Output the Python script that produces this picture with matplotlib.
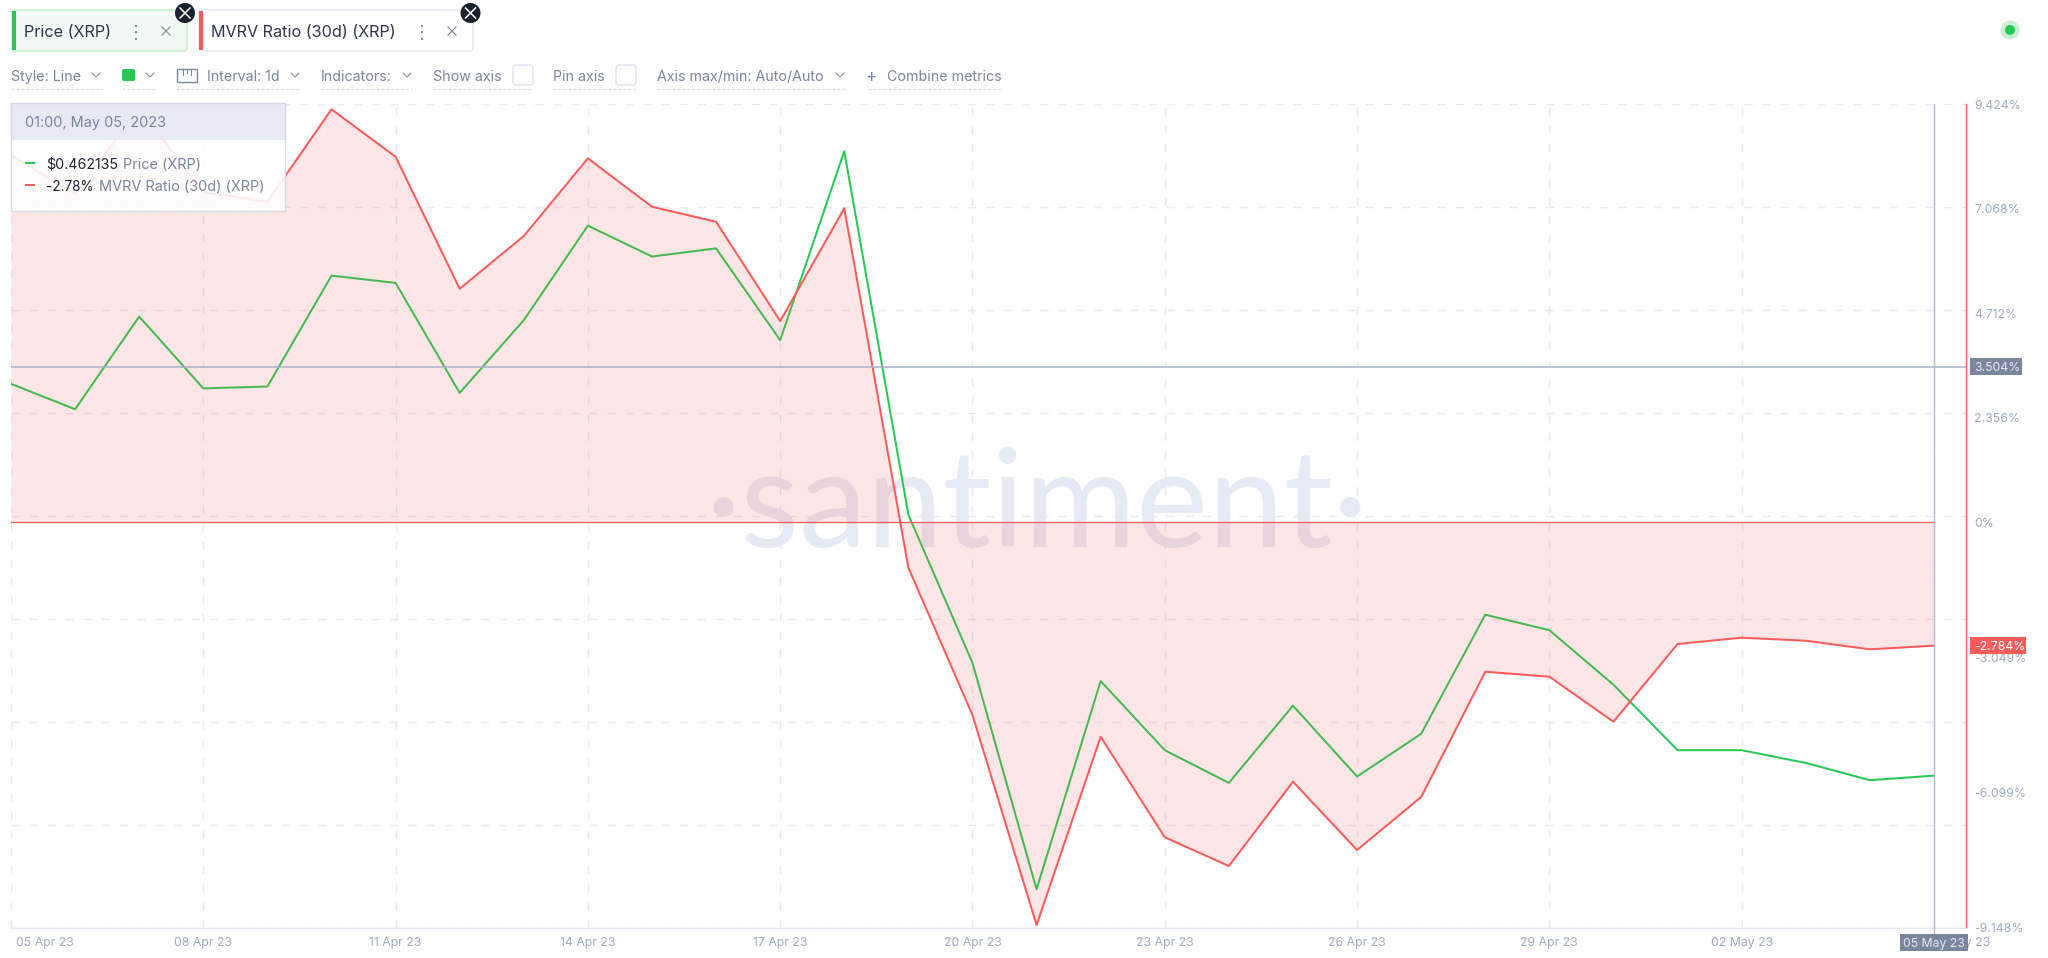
import matplotlib
matplotlib.use('Agg')
import matplotlib.pyplot as plt
import matplotlib.patches as patches
from matplotlib.transforms import ScaledTranslation
import pandas as pd

# daily closes, 05 Apr - 05 May 2023
dates = pd.date_range('2023-04-05', periods=31)
price = [0.5052, 0.5024, 0.5126, 0.5047, 0.5049, 0.5171, 0.5163, 0.5042, 0.5122, 0.5226, 0.5192,
         0.5201, 0.5100, 0.5308, 0.4908, 0.4745, 0.4496, 0.4725, 0.4649, 0.4613, 0.4698,
         0.4620, 0.4667, 0.4798, 0.4781, 0.4721, 0.4649, 0.4649, 0.4635, 0.4616, 0.4621]
mvrv = [8.274, 7.395, 9.326, 7.433, 7.221, 9.304, 8.235, 5.260, 6.448, 8.199, 7.108,
        6.770, 4.532, 7.072, -1.028, -4.348, -9.080, -4.837, -7.104, -7.751, -5.851,
        -7.390, -6.196, -3.372, -3.484, -4.499, -2.747, -2.605, -2.673, -2.867, -2.784]
mvrv_ticks = [9.424, 7.068, 4.712, 2.356, 0, -3.049, -6.099, -9.148]
mvrv_tick_labels = ['9.424%', '7.068%', '4.712%', '2.356%', '0%', '-3.049%', '-6.099%', '-9.148%']
hover_mvrv = 3.504

GREEN = '#26c953'
RED = '#ff5b5b'
GREY = '#7a859e'
AXIS_GREY = '#9faac4'
GRID = '#e7e9f3'
LINE_GREY = '#b2bbd3'
DARK = '#1f2333'
W, H = 2048, 958

plt.rcParams['font.family'] = ['Inter', 'DejaVu Sans']

fig = plt.figure(figsize=(W / 100, H / 100), dpi=100)
pos = [11 / W, (H - 928) / H, 1955 / W, 824 / H]

# price goes on the lower axes, the pink fill sits on top of its line
ax_price = fig.add_axes(pos)
ax = ax_price.twinx()
ax.patch.set_visible(False)
ax_price.set_facecolor('white')

dash = (0, (5.8, 7.2))
for i in range(9):
    ax_price.plot([0, 1], [i / 8, i / 8], transform=ax_price.transAxes, color=GRID, lw=1, ls=dash, zorder=1)

ax_price.text(0.5248, 0.4624, '·santiment·', transform=ax_price.transAxes, ha='center', va='baseline',
              family='Lato', fontsize=98, color='#e6eaf4', zorder=0.5)

ax_price.plot(dates, price, color=GREEN, lw=1.45, zorder=3)
ax_price.set_ylim(0.44534, 0.53598)
ax_price.set_yticks([])

ax.fill_between(dates, mvrv, 0, color=RED, alpha=0.15, lw=0, zorder=2)
ax.plot(dates, mvrv, color=RED, lw=1.45, zorder=3)
ax.axhline(0, xmax=30 / 30.5, color=RED, lw=0.9, zorder=3)
ax.axhline(hover_mvrv, color='#a9b2cb', lw=1.1, zorder=4)
ax.set_ylim(-9.148, 9.424)
ax.set_yticks(mvrv_ticks, mvrv_tick_labels)
ax.tick_params(axis='y', length=0, pad=5.8, labelsize=8.8, labelcolor=AXIS_GREY)

ax.set_xlim(dates[0], dates[0] + pd.Timedelta(days=30.5))
tick_dates = dates[::3]
ax_price.set_xticks(tick_dates, [d.strftime('%d %b %y') for d in tick_dates])
ax_price.tick_params(axis='x', length=0, pad=6.5, labelsize=8.8, labelcolor=AXIS_GREY)
ax_price.grid(axis='x', color=GRID, lw=1, ls=dash)
ax_price.set_axisbelow(True)

# first and last date labels get pushed sideways in the app
tick_texts = ax_price.get_xticklabels()
tick_texts[0].set_transform(tick_texts[0].get_transform() + ScaledTranslation(0.34, 0, fig.dpi_scale_trans))
tick_texts[-1].set_transform(tick_texts[-1].get_transform() + ScaledTranslation(0.25, 0, fig.dpi_scale_trans))

for spine in ax.spines.values():
    spine.set_visible(False)
for spine in ax_price.spines.values():
    spine.set_visible(False)
ax.spines['right'].set_visible(True)
ax.spines['right'].set_color(RED)
ax.spines['right'].set_linewidth(1)
ax.spines['bottom'].set_visible(True)
ax.spines['bottom'].set_color('#e5e8f2')
ax.spines['bottom'].set_linewidth(1)

# everything of the app around the chart, in pixels of the screenshot
ui = fig.add_axes([0, 0, 1, 1])
ui.set_xlim(0, W)
ui.set_ylim(H, 0)
ui.axis('off')


def label(x, y, s, size=14.2, color=GREY, ha='left', **kw):
    ui.text(x, y, s, fontsize=size * 0.72, color=color, ha=ha, va='center_baseline', **kw)


def box(x0, y0, x1, y1, face, edge='none', lw=1, alpha=None, z=2):
    ui.add_patch(patches.Rectangle((x0, y0), x1 - x0, y1 - y0, facecolor=face, edgecolor=edge,
                                   lw=lw, alpha=alpha, zorder=z))


def round_box(x0, y0, x1, y1, face, edge='none', lw=1, rad=3, z=2):
    ui.add_patch(patches.FancyBboxPatch((x0 + rad, y0 + rad), x1 - x0 - 2 * rad, y1 - y0 - 2 * rad,
                                        boxstyle='round,pad=%d' % rad, facecolor=face, edgecolor=edge,
                                        lw=lw, zorder=z))


def chevron(x, y):
    ui.plot([x - 4, x, x + 4], [y - 2, y + 2, y - 2], color=GREY, lw=0.7)


def cross(x, y):
    ui.plot([x - 4, x + 4], [y - 4, y + 4], color=GREY, lw=0.8)
    ui.plot([x - 4, x + 4], [y + 4, y - 4], color=GREY, lw=0.8)


def badge(x, y):
    ui.add_patch(patches.Circle((x, y), 10, facecolor='#1c2130', edgecolor='none', zorder=5))
    ui.plot([x - 5, x + 5], [y - 5, y + 5], color='white', lw=1.1, zorder=6)
    ui.plot([x - 5, x + 5], [y + 5, y - 5], color='white', lw=1.1, zorder=6)


# metric chips
round_box(12, 10, 187, 51, '#f2faf5', '#bfeccb')
box(12, 11, 16, 50, GREEN, z=3)
label(24, 31, 'Price (XRP)', size=16.2, color='#2f354d')
label(136, 31, '⋮', size=18, ha='center')
cross(166, 31)
badge(185, 13)

round_box(199, 10, 473, 51, 'white', '#e5e8f2')
box(199, 11, 203, 50, RED, z=3)
label(211, 31, 'MVRV Ratio (30d) (XRP)', size=16.2, color='#2f354d')
label(422, 31, '⋮', size=18, ha='center')
cross(452, 31)
badge(470.5, 13)

# toolbar
label(11, 75, 'Style: Line')
chevron(96, 75)
round_box(122, 69, 135, 81, GREEN, rad=2)
chevron(150, 75)
box(177, 69, 197, 82, 'white', GREY)
ui.plot([183, 183], [69, 75], color=GREY, lw=0.8)
ui.plot([187, 187], [69, 73], color=GREY, lw=0.8)
ui.plot([191, 191], [69, 75], color=GREY, lw=0.8)
label(207, 75, 'Interval: 1d')
chevron(295, 75)
label(321, 75, 'Indicators:')
chevron(407, 75)
label(433, 75, 'Show axis')
round_box(513, 65, 533, 85, 'white', '#dfe3ee')
label(553, 75, 'Pin axis')
round_box(616, 65, 636, 85, 'white', '#dfe3ee')
label(657, 75, 'Axis max/min: Auto/Auto')
chevron(840, 75)
label(871, 75, '+', size=17, ha='center')
label(887, 75, 'Combine metrics')
for x0, x1 in [(11, 102), (122, 156), (176, 301), (321, 412), (433, 533), (553, 636), (657, 846), (868, 1002)]:
    ui.plot([x0, x1], [89, 89], color='#d5dae8', lw=0.8, ls=(0, (2.5, 2)))

# status dot
ui.add_patch(patches.Circle((2010, 30), 9.5, facecolor='#c9efd5', edgecolor='none'))
ui.add_patch(patches.Circle((2010, 30), 5, facecolor=GREEN, edgecolor='none'))

# tooltip
box(11, 103, 285, 211, 'white', alpha=0.88)
box(11, 103, 285, 140, '#e7eaf3')
box(11, 103, 285, 211, 'none', '#d5dae8')
label(25, 121, '01:00, May 05, 2023', size=14.5)
box(25, 162, 35, 164, GREEN, z=3)
label(46, 163, '$0.462135', size=14.2, color=DARK)
label(123, 163, 'Price (XRP)', size=14.5)
box(25, 184, 35, 186, RED, z=3)
label(46, 185, '-2.78%', size=13.6, color=DARK)
label(99, 185, 'MVRV Ratio (30d) (XRP)', size=14.5)

# crosshair and its tags
ui.plot([1934, 1934], [104, 934], color=LINE_GREY, lw=1)
box(1900, 934, 1968, 951, GREY, z=3)
label(1934, 942.5, '05 May 23', size=12.2, color='#e5e8f2', ha='center', zorder=4)
box(1970, 358, 2022, 375, GREY, z=3)
label(1974, 366.5, '3.504%', size=12.2, color='#e5e8f2', zorder=4)
box(1970, 637, 2026, 654, RED, z=3)
label(1974, 645.5, '-2.784%', size=12.2, color='white', zorder=4)

fig.savefig('out.png', dpi=100)
